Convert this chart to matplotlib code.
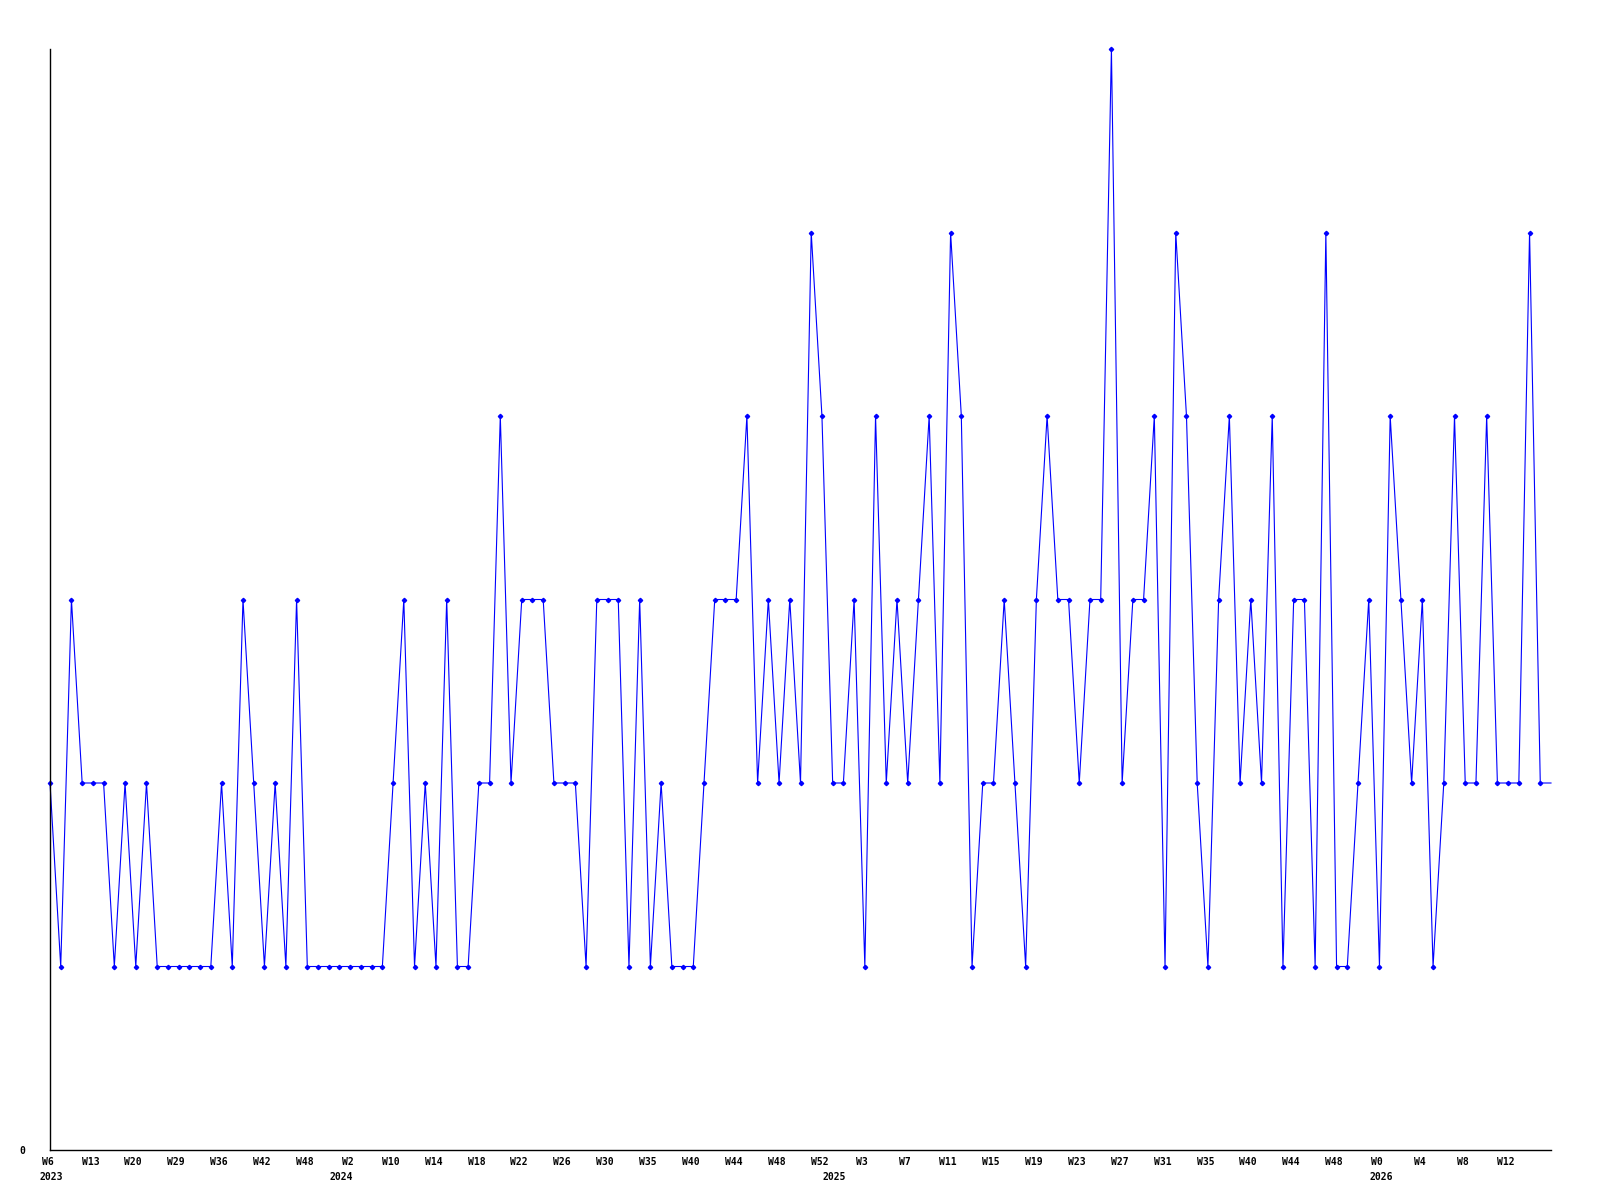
import matplotlib
matplotlib.use("Agg")
import matplotlib.pyplot as plt
import matplotlib.transforms as mtransforms

# weekly values, one per point (last one only extends the line to the edge)
values = [2, 1, 3, 2, 2, 2, 1, 2, 1, 2,
          1, 1, 1, 1, 1, 1, 2, 1, 3, 2,
          1, 2, 1, 3, 1, 1, 1, 1, 1, 1,
          1, 1, 2, 3, 1, 2, 1, 3, 1, 1,
          2, 2, 4, 2, 3, 3, 3, 2, 2, 2,
          1, 3, 3, 3, 1, 3, 1, 2, 1, 1,
          1, 2, 3, 3, 3, 4, 2, 3, 2, 3,
          2, 5, 4, 2, 2, 3, 1, 4, 2, 3,
          2, 3, 4, 2, 5, 4, 1, 2, 2, 3,
          2, 1, 3, 4, 3, 3, 2, 3, 3, 6,
          2, 3, 3, 4, 1, 5, 4, 2, 1, 3,
          4, 2, 3, 2, 4, 1, 3, 3, 1, 5,
          1, 1, 2, 3, 1, 4, 3, 2, 3, 1,
          2, 4, 2, 2, 4, 2, 2, 2, 5, 2,
          2]

week_labels = ["W6", "W13", "W20", "W29", "W36", "W42", "W48", "W2", "W10",
               "W14", "W18", "W22", "W26", "W30", "W35", "W40", "W44", "W48",
               "W52", "W3", "W7", "W11", "W15", "W19", "W23", "W27", "W31",
               "W35", "W40", "W44", "W48", "W0", "W4", "W8", "W12"]

year_labels = ["2023", "2024", "2025", "2026"]
year_index = [0, 27, 73, 124]

font = {"family": "DejaVu Sans Mono", "weight": "bold", "size": 7}

fig = plt.figure(figsize=(16, 12), dpi=100)
ax = fig.add_axes([50 / 1600, 1 - 1150 / 1200, 1501 / 1600, 1101 / 1200])

x = list(range(len(values)))
ax.plot(x, values, color="#0000ff", linewidth=0.8, marker="D", markersize=2.2,
        markevery=slice(0, len(values) - 1), clip_on=False)

ax.set_xlim(0, len(values) - 1)
ax.set_ylim(0, 6)

for side in ["top", "right"]:
    ax.spines[side].set_visible(False)
for side in ["left", "bottom"]:
    ax.spines[side].set_color("black")
    ax.spines[side].set_linewidth(1)

ax.set_xticks(range(0, 4 * len(week_labels), 4))
ax.set_xticklabels(week_labels, fontdict=font)
ax.set_yticks([0])
ax.set_yticklabels(["0"], fontdict=font)
ax.tick_params(axis="x", length=0, pad=5)
ax.tick_params(axis="y", length=0, pad=18)

# week labels sit a little left of their points
shift = mtransforms.ScaledTranslation(-2.5 / 100, 0, fig.dpi_scale_trans)
for lbl in ax.get_xticklabels():
    lbl.set_transform(lbl.get_transform() + shift)

for lab, idx in zip(year_labels, year_index):
    ax.annotate(lab, xy=(idx, 0), xycoords=("data", "axes fraction"),
                xytext=(-7.5, -19.5), textcoords="offset points",
                ha="left", va="center", **font)

fig.savefig("out.png", dpi=100)
